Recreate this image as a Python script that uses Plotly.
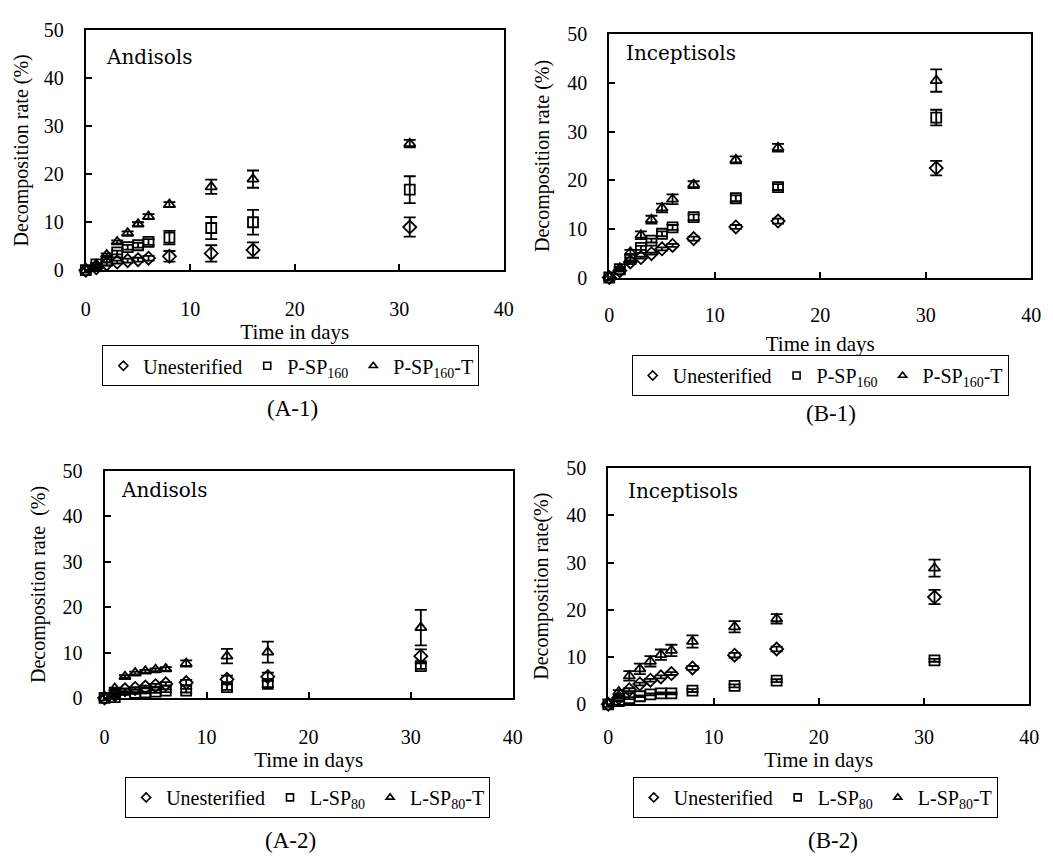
import plotly.graph_objects as go

# ---------------- data ----------------
days = [0, 1, 2, 3, 4, 5, 6, 8, 12, 16, 31]

# (A-1) Andisols, P-SP160
unest_A1 = [0, 0.5, 1.3, 1.7, 2.0, 2.2, 2.5, 2.9, 3.5, 4.2, 9.0]
unest_A1_err = [0, 0.2, 0.3, 0.3, 0.4, 0.4, 0.5, 1.1, 1.7, 1.6, 2.0]
psp_A1 = [0, 1.2, 2.0, 3.7, 4.8, 5.2, 5.9, 6.8, 8.8, 10.0, 16.8]
psp_A1_err = [0, 0.2, 0.3, 0.4, 0.5, 0.5, 0.6, 1.4, 2.3, 2.6, 2.8]
pspT_A1 = [0, 1.2, 3.2, 5.9, 7.7, 9.6, 11.2, 13.7, 17.4, 19.0, 26.4]
pspT_A1_err = [0, 0.2, 0.3, 0.3, 0.4, 0.4, 0.5, 0.5, 1.5, 1.8, 0.8]

# (B-1) Inceptisols, P-SP160
unest_B1 = [0, 1.4, 3.2, 4.1, 4.9, 5.9, 6.6, 8.0, 10.4, 11.6, 22.5]
unest_B1_err = [0, 0.2, 0.2, 0.2, 0.2, 0.3, 0.3, 0.4, 0.4, 0.5, 1.5]
psp_B1 = [0, 1.7, 3.8, 6.1, 7.6, 9.0, 10.3, 12.4, 16.3, 18.6, 32.9]
psp_B1_err = [0, 0.2, 0.3, 0.4, 0.4, 0.5, 0.5, 0.6, 0.6, 0.6, 1.6]
pspT_B1 = [0, 1.9, 5.2, 8.7, 11.9, 14.3, 16.1, 19.1, 24.2, 26.7, 40.5]
pspT_B1_err = [0, 0.3, 0.5, 0.8, 0.8, 0.9, 1.0, 0.7, 0.7, 0.8, 2.3]

# (A-2) Andisols, L-SP80
unest_A2 = [0, 0.7, 1.8, 2.1, 2.4, 2.7, 3.1, 3.4, 4.1, 4.7, 9.2]
unest_A2_err = [0, 0.2, 0.3, 0.3, 0.3, 0.4, 0.4, 0.6, 0.8, 0.9, 1.5]
lsp_A2 = [0, 0.2, 0.9, 1.1, 1.2, 1.4, 1.6, 1.6, 2.4, 3.1, 7.0]
lsp_A2_err = [0, 0.1, 0.2, 0.2, 0.2, 0.3, 0.3, 0.4, 0.6, 0.7, 0.6]
lspT_A2 = [0, 2.1, 4.7, 5.5, 5.9, 6.2, 6.4, 7.6, 9.2, 10.1, 15.5]
lspT_A2_err = [0, 0.2, 0.3, 0.3, 0.3, 0.3, 0.4, 0.7, 1.6, 2.3, 3.9]

# (B-2) Inceptisols, L-SP80
unest_B2 = [0, 1.4, 3.1, 4.3, 5.1, 5.8, 6.5, 7.7, 10.4, 11.7, 22.7]
unest_B2_err = [0, 0.2, 0.3, 0.3, 0.3, 0.3, 0.3, 0.4, 0.5, 0.5, 1.5]
lsp_B2 = [0, 0.7, 1.3, 1.7, 2.1, 2.3, 2.3, 2.9, 3.9, 5.0, 9.3]
lsp_B2_err = [0, 0.1, 0.2, 0.2, 0.2, 0.2, 0.2, 0.3, 0.3, 0.3, 0.3]
lspT_B2 = [0, 2.6, 6.0, 7.5, 9.1, 10.5, 11.4, 13.3, 16.4, 18.1, 28.8]
lspT_B2_err = [0, 0.4, 1.0, 1.1, 1.1, 1.1, 1.2, 1.3, 1.2, 1.0, 1.8]

x_ticks = [0, 10, 20, 30, 40]
y_ticks = [0, 10, 20, 30, 40, 50]

# ---------------- styling / layout ----------------
W, H = 1053, 860
SERIF = "Liberation Serif, Times New Roman, serif"
SOILFONT = "DejaVu Serif, serif"
SYMBOLS = ["diamond-open", "square-open", "triangle-up-open"]

panels = [
    dict(key="", leg="legend", soil="Andisols", cap="(A-1)",
         names=["Unesterified", "P-SP<sub>160</sub>", "P-SP<sub>160</sub>-T"],
         series=[(unest_A1, unest_A1_err), (psp_A1, psp_A1_err), (pspT_A1, pspT_A1_err)],
         ytitle="Decomposition rate (%)",
         box=(82, 506, 20, 266), soilpos=(100, 47), cappos=(292, 408),
         legpos=(290, 343), xstand=20, xtitle_st=2, ytitle_st=10),
    dict(key="2", leg="legend2", soil="Inceptisols", cap="(B-1)",
         names=["Unesterified", "P-SP<sub>160</sub>", "P-SP<sub>160</sub>-T"],
         series=[(unest_B1, unest_B1_err), (psp_B1, psp_B1_err), (pspT_B1, pspT_B1_err)],
         ytitle="Decomposition rate (%)",
         box=(613, 1041, 24, 273.5), soilpos=(628, 43), cappos=(838, 413),
         legpos=(827, 353), xstand=18, xtitle_st=12, ytitle_st=12),
    dict(key="3", leg="legend3", soil="Andisols", cap="(A-2)",
         names=["Unesterified", "L-SP<sub>80</sub>", "L-SP<sub>80</sub>-T"],
         series=[(unest_A2, unest_A2_err), (lsp_A2, lsp_A2_err), (lspT_A2, lspT_A2_err)],
         ytitle="Decomposition rate\u00a0 (%)",
         box=(101, 515, 472, 705), soilpos=(116, 492), cappos=(290, 851),
         legpos=(307, 786), xstand=20, xtitle_st=5, ytitle_st=12),
    dict(key="4", leg="legend4", soil="Inceptisols", cap="(B-2)",
         names=["Unesterified", "L-SP<sub>80</sub>", "L-SP<sub>80</sub>-T"],
         series=[(unest_B2, unest_B2_err), (lsp_B2, lsp_B2_err), (lspT_B2, lspT_B2_err)],
         ytitle="Decomposition rate(%)",
         box=(612, 1039, 469, 711.5), soilpos=(630, 493), cappos=(840, 851),
         legpos=(822, 786), xstand=14, xtitle_st=2, ytitle_st=12),
]

fig = go.Figure()
layout = dict(
    width=W, height=H,
    margin=dict(l=0, r=0, t=0, b=0),
    paper_bgcolor="white", plot_bgcolor="white",
    font=dict(family=SERIF, size=18, color="black"),
    showlegend=True,
    annotations=[],
)

for p in panels:
    xa = "x" + p["key"]
    ya = "y" + p["key"]
    for name, sym, (vals, errs) in zip(p["names"], SYMBOLS, p["series"]):
        # data marks
        fig.add_trace(go.Scatter(
            x=days, y=vals, mode="markers", name=name, showlegend=False,
            xaxis=xa, yaxis=ya, cliponaxis=False,
            marker=dict(symbol=sym, size=10, color="black",
                        line=dict(color="black", width=1.8)),
            error_y=dict(type="data", array=errs, visible=True,
                         color="black", thickness=1.8, width=6),
        ))
        # legend entry with the smaller key symbol used in the original
        fig.add_trace(go.Scatter(
            x=[None], y=[None], mode="markers", name=name, showlegend=True,
            xaxis=xa, yaxis=ya, legend=p["leg"], hoverinfo="skip",
            marker=dict(symbol=sym, size=7, color="black",
                        line=dict(color="black", width=1.6)),
        ))
    x0, x1, y0, y1 = p["box"]
    xdom = [x0 / W, x1 / W]
    ydom = [1 - y1 / H, 1 - y0 / H]
    layout["xaxis" + p["key"]] = dict(
        domain=xdom, range=[0, 40], tickvals=x_ticks, ticks="inside", ticklen=6,
        tickwidth=1.5, tickcolor="black",
        showline=True, linecolor="black", linewidth=2, mirror=True,
        showgrid=False, zeroline=False, anchor=ya,
        ticklabelstandoff=p["xstand"], tickfont=dict(size=20),
        title=dict(text="Time in days", font=dict(size=21), standoff=p["xtitle_st"]),
    )
    layout["yaxis" + p["key"]] = dict(
        domain=ydom, range=[0, 50], tickvals=y_ticks, ticks="inside", ticklen=6,
        tickwidth=1.5, tickcolor="black",
        showline=True, linecolor="black", linewidth=2, mirror=True,
        showgrid=False, zeroline=False, anchor=xa,
        ticklabelstandoff=16, tickfont=dict(size=20),
        title=dict(text=p["ytitle"], font=dict(size=20), standoff=p["ytitle_st"]),
    )
    lx, ly = p["legpos"]
    layout[p["leg"]] = dict(
        orientation="h", x=lx / W, y=1 - ly / H, xanchor="center", yanchor="top",
        xref="paper", yref="paper",
        bordercolor="black", borderwidth=1, bgcolor="white",
        font=dict(family=SERIF, size=20), itemwidth=30, traceorder="normal",
    )
    sx, sy = p["soilpos"]
    layout["annotations"].append(dict(
        text=p["soil"], x=sx / W, y=1 - sy / H, xref="paper", yref="paper",
        xanchor="left", yanchor="middle", showarrow=False,
        font=dict(family=SOILFONT, size=20, color="black")))
    cx, cy = p["cappos"]
    layout["annotations"].append(dict(
        text=p["cap"], x=cx / W, y=1 - cy / H, xref="paper", yref="paper",
        xanchor="center", yanchor="middle", showarrow=False,
        font=dict(family=SERIF, size=23, color="black")))

fig.update_layout(**layout)
fig.write_html("out.html", config={"displayModeBar": False},
               post_script="document.body.style.margin='0px';document.body.style.overflow='hidden';")
